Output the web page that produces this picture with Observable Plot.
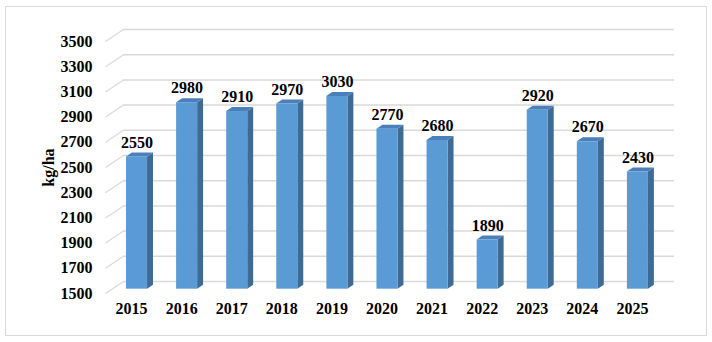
<!DOCTYPE html>
<html>
<head>
<meta charset="utf-8">
<script src="https://cdn.jsdelivr.net/npm/d3@7"></script>
<script src="https://cdn.jsdelivr.net/npm/@observablehq/plot@0.6"></script>
<style>
  html, body { margin: 0; padding: 0; background: #ffffff; }
  #wrap { position: relative; width: 712px; height: 342px; }
  #border { position: absolute; left: 5px; top: 6px; width: 700px; height: 328px; border: 1px solid #d9d9d9; pointer-events: none; }
  svg { display: block; }
</style>
</head>
<body>
<div id="wrap"><div id="border"></div></div>
<script>
// ---- data ----
const years = ["2015","2016","2017","2018","2019","2020","2021","2022","2023","2024","2025"];
const yields = [2550, 2980, 2910, 2970, 3030, 2770, 2680, 1890, 2920, 2670, 2430];
const yTicks = [1500, 1700, 1900, 2100, 2300, 2500, 2700, 2900, 3100, 3300, 3500];
const yLabel = "kg/ha";

// ---- 3D projection constants (style) ----
const pxPerUnitX = 551 / 11;        // back wall width / categories
const pxPerUnitY = 252 / 2000;      // front plane scale
const DXu = 18 / pxPerUnitX;        // full depth horizontal shift (units)
const DYu = 12 / pxPerUnitY;        // full depth vertical shift (value units)
const z0 = 0.36, z1 = 0.69;         // bar front/back depth (0 = front plane, 1 = back wall)
const half = 0.21;                  // half width of bar face (units)
const base = yTicks[0];

const bars = years.map((yr, i) => {
  const c = i + 0.5 - (1 - z0) * DXu;
  return {yr, v: yields[i], c};
});

const sideFaces = bars.flatMap(b => [z0, z1].map(z => ({
  yr: b.yr,
  x: b.c + half + (z - z0) * DXu,
  y1: base + z * DYu,
  y2: b.v + z * DYu
})));

const topFaces = bars.flatMap(b => {
  const yf = b.v + z0 * DYu, yb = b.v + z1 * DYu, t = (z1 - z0) * DXu;
  return [
    {yr: b.yr, x: b.c - half, y1: yf, y2: yf},
    {yr: b.yr, x: b.c - half + t, y1: yf, y2: yb},
    {yr: b.yr, x: b.c + half, y1: yf, y2: yb},
    {yr: b.yr, x: b.c + half + t, y1: yb, y2: yb}
  ];
});

const font = "'Liberation Serif', 'Times New Roman', serif";

const chart = Plot.plot({
  width: 712,
  height: 342,
  marginLeft: 123,
  marginRight: 38,
  marginTop: 41,
  marginBottom: 49,
  style: {fontFamily: font, fontSize: "16px", fontWeight: "bold", color: "#000", background: "transparent"},
  x: {type: "linear", domain: [0, 11], axis: null},
  y: {type: "linear", domain: [1500, 3500], axis: null},
  marks: [
    // gridlines: diagonal floor-to-wall segments and back wall lines
    Plot.link(yTicks, {x1: -DXu, y1: d => d, x2: 0, y2: d => d + DYu, stroke: "#d9d9d9", strokeWidth: 1.2}),
    Plot.ruleY(yTicks, {y: d => d + DYu, stroke: "#d9d9d9", strokeWidth: 1.5}),
    // bars: side, top, front
    Plot.areaY(sideFaces, {x: "x", y1: "y1", y2: "y2", z: "yr", fill: "#3d6b96", curve: "linear"}),
    Plot.areaY(topFaces, {x: "x", y1: "y1", y2: "y2", z: "yr", fill: "#4a7fb9", curve: "linear"}),
    Plot.rect(bars, {x1: d => d.c - half, x2: d => d.c + half, y1: base + z0 * DYu, y2: d => d.v + z0 * DYu, fill: "#5b9bd5"}),
    // value labels
    Plot.text(bars, {x: "c", y: d => d.v + z0 * DYu, text: d => String(d.v), dy: -14.5, fill: "#000"}),
    // category labels
    Plot.text(bars, {x: (d, i) => i + 0.5 - DXu, text: "yr", frameAnchor: "bottom", dy: 20, dx: 1, fill: "#000"}),
    // y tick labels
    Plot.text(yTicks, {y: d => d, text: d => String(d), frameAnchor: "left", textAnchor: "end", dx: -31, fill: "#000"}),
    // y axis title
    Plot.text([yLabel], {text: d => d, x: -(123 - 48) / pxPerUnitX, frameAnchor: "middle", rotate: -90, fill: "#000"})
  ]
});

document.getElementById("wrap").appendChild(chart);
</script>
</body>
</html>
